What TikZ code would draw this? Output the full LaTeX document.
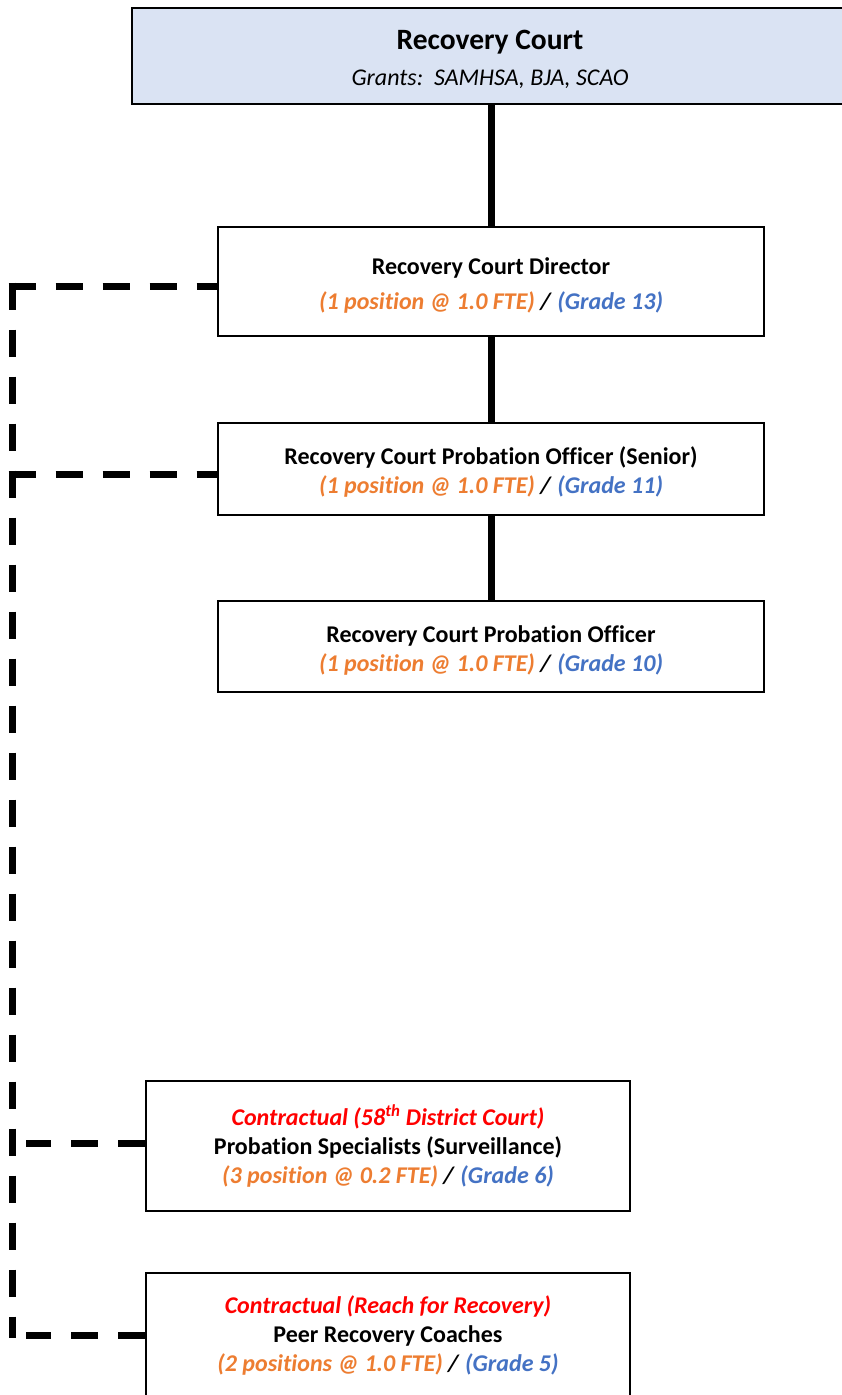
\documentclass[tikz,border=0pt]{standalone}
\usepackage{fontspec}
\setmainfont{Carlito}[Ligatures=NoCommon]
\definecolor{hdrfill}{HTML}{DAE3F3}
\definecolor{fteorange}{HTML}{ED7D31}
\definecolor{gradeblue}{HTML}{4472C4}
\definecolor{contred}{HTML}{FF0000}
\tikzset{
  box/.style={draw=black, line width=2.5pt, fill=white, rectangle, align=center, inner sep=0pt},
  solidline/.style={line width=7pt, black},
  dashline/.style={line width=7pt, black, dash pattern=on 27pt off 20pt},
}
\newcommand{\fte}[1]{\textcolor{fteorange}{\textit{\textbf{#1}}}}
\newcommand{\grd}[1]{\textcolor{gradeblue}{\textit{\textbf{#1}}}}
\newcommand{\slsh}{\textbf{\textit{/}}}
\newcommand{\tallstrut}{\rule{0pt}{24pt}}
\begin{document}
\begin{tikzpicture}[x=1pt,y=-1pt, font=\fontsize{24}{29}\selectfont]
\useasboundingbox (0,0) rectangle (841,1395);
% boxes
\node[box, fill=hdrfill, minimum width=716pt, minimum height=96pt] (top) at (490,56) {};
\node (toptitle) at (490,42) {\fontsize{29.5}{34}\selectfont\textbf{Recovery Court}};
\node (topsub) at (490,79) {\textit{Grants:\ \ SAMHSA, BJA, SCAO}};

\node[box, minimum width=546pt, minimum height=109pt] (dir) at (491,281.5)
  {\tallstrut\textbf{Recovery Court Director}\\[6pt] \fte{(1 position @ 1.0 FTE)} \slsh{} \grd{(Grade 13)}};
\node[box, minimum width=546pt, minimum height=92pt] (sen) at (491,469)
  {\tallstrut\textbf{Recovery Court Probation Officer (Senior)}\\ \fte{(1 position @ 1.0 FTE)} \slsh{} \grd{(Grade 11)}};
\node[box, minimum width=546pt, minimum height=91pt] (po) at (491,646.5)
  {\tallstrut\textbf{Recovery Court Probation Officer}\\ \fte{(1 position @ 1.0 FTE)} \slsh{} \grd{(Grade 10)}};
\node[box, minimum width=484pt, minimum height=130pt] (spec) at (388,1146)
  {\textcolor{contred}{\textit{\textbf{Contractual (58\textsuperscript{th} District Court)}}}\\
   \textbf{Probation Specialists (Surveillance)}\\
   \fte{(3 position @ 0.2 FTE)} \slsh{} \grd{(Grade 6)}};
\node[box, minimum width=484pt, minimum height=124pt] (peer) at (388,1335)
  {\textcolor{contred}{\textit{\textbf{Contractual (Reach for Recovery)}}}\\
   \textbf{Peer Recovery Coaches}\\
   \fte{(2 positions @ 1.0 FTE)} \slsh{} \grd{(Grade 5)}};

% solid connectors
\draw[solidline] (top.south -| dir.north) -- (dir.north);
\draw[solidline] (dir.south) -- (sen.north);
\draw[solidline] (sen.south) -- (po.north);

% dashed connectors
\coordinate (k1h) at (8.5,286);
\coordinate (k1v) at (12,282.5);
\coordinate (e1) at (12,452);
\coordinate (k2h) at (8.5,474);
\coordinate (k2v) at (12,470.5);
\coordinate (e2) at (12,1338);
\coordinate (bx) at (26,0);
\draw[dashline] (k1h) -- ([yshift=-4.5pt]dir.west);
\draw[dashline] (k1v) -- (e1);
\draw[dashline] (k2h) -- ([yshift=-5pt]sen.west);
\draw[dashline] (k2v) -- (e2);
\draw[dashline] ([yshift=3pt]spec.west) -- ([yshift=3pt]spec.west -| bx);
\draw[dashline] (peer.west) -- (peer.west -| bx);
\end{tikzpicture}
\end{document}
